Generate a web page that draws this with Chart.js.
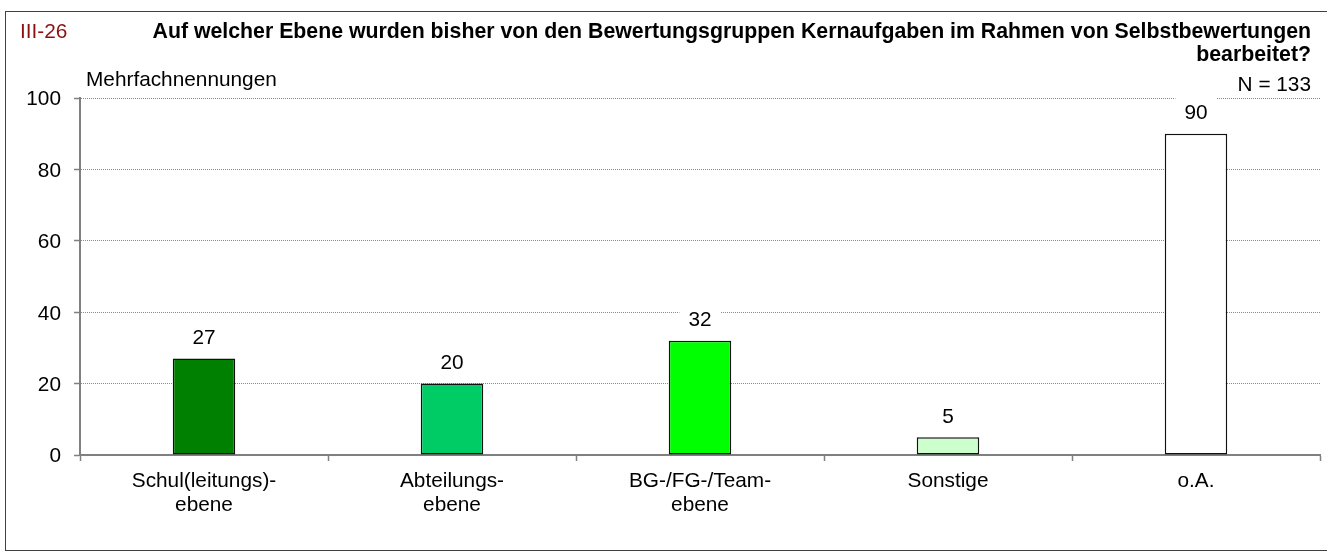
<!DOCTYPE html>
<html lang="de">
<head>
<meta charset="utf-8">
<title>III-26 Kernaufgaben Selbstbewertung</title>
<script src="https://cdn.jsdelivr.net/npm/chart.js"></script>
<style>
  html, body { margin: 0; padding: 0; background: #fff; }
  #wrap { width: 1327px; height: 552px; }
</style>
</head>
<body>
<div id="wrap"><canvas id="chart" width="1327" height="552"></canvas></div>
<script>
// categories and counts (multiple answers allowed, N = 133)
const categories = [
  ['Schul(leitungs)-', 'ebene'],
  ['Abteilungs-', 'ebene'],
  ['BG-/FG-/Team-', 'ebene'],
  ['Sonstige'],
  ['o.A.']
];
const counts = [27, 20, 32, 5, 90];
const barColors = ['#008000', '#00CC66', '#00FF00', '#CCFFCC', '#FFFFFF'];
const yMin = 0, yMax = 100, yStep = 20;

const FONT = '"Liberation Sans", Arial, sans-serif';
const REG = '20.8px ' + FONT;
const BOLD = 'bold 21.3px ' + FONT;

function $(id){ return document.getElementById(id) }

function text(ctx, str, x, y, align, font, color){
  ctx.save();
  ctx.font = font;
  ctx.fillStyle = color;
  ctx.textAlign = align;
  ctx.textBaseline = 'alphabetic';
  ctx.fillText(str, x, y);
  ctx.restore();
}

// frame, headings, tick labels and value labels
const decorations = {
  id: 'decorations',
  beforeDraw(chart){
    const ctx = chart.ctx;
    ctx.save();
    ctx.fillStyle = '#fff';
    ctx.fillRect(0, 0, chart.width, chart.height);
    ctx.strokeStyle = '#404040';
    ctx.lineWidth = 1;
    ctx.strokeRect(5.5, 11.5, 1330, 539);
    ctx.restore();
  },
  afterDraw(chart){
    const ctx = chart.ctx;
    const x = chart.scales.x, y = chart.scales.y;

    text(ctx, 'III-26', 20, 38, 'left', REG, '#8B1010');
    text(ctx, 'Auf welcher Ebene wurden bisher von den Bewertungsgruppen Kernaufgaben im Rahmen von Selbstbewertungen', 1311, 38, 'right', BOLD, '#000');
    text(ctx, 'bearbeitet?', 1311, 61, 'right', BOLD, '#000');
    text(ctx, 'N = 133', 1311, 91, 'right', REG, '#000');
    text(ctx, 'Mehrfachnennungen', 86, 85.5, 'left', REG, '#000');

    // y tick labels
    y.ticks.forEach(t => {
      text(ctx, String(t.value), 61, y.getPixelForValue(t.value) + 7.4, 'right', REG, '#000');
    });
    // x category labels
    categories.forEach((lines, i) => {
      const cx = x.getPixelForValue(i);
      lines.forEach((ln, j) => text(ctx, ln, cx, 487 + j*23.5, 'center', REG, '#000'));
    });
  },
  afterDatasetsDraw(chart){
    const ctx = chart.ctx;
    const meta = chart.getDatasetMeta(0);
    meta.data.forEach((bar, i) => {
      const base = bar.y - 14.5;
      ctx.save();
      ctx.font = REG;
      const w = ctx.measureText(String(counts[i])).width;
      ctx.fillStyle = '#fff';
      ctx.fillRect(bar.x - w/2 - 9, base - 22, w + 18, 26);
      ctx.restore();
      text(ctx, String(counts[i]), bar.x, base, 'center', REG, '#000');
    });
  }
};

new Chart($('chart'), {
  type: 'bar',
  data: {
    labels: categories,
    datasets: [{
      data: counts,
      backgroundColor: barColors,
      borderColor: '#111',
      borderWidth: 1.5,
      borderSkipped: false,
      categoryPercentage: 1,
      barPercentage: 0.252
    }]
  },
  options: {
    responsive: false,
    animation: false,
    layout: { padding: { left: 80, right: 7, top: 98, bottom: 97 } },
    plugins: { legend: { display: false }, tooltip: { enabled: false } },
    scales: {
      x: {
        ticks: { display: false },
        grid: {
          offset: true,
          drawOnChartArea: false,
          tickLength: 6,
          tickColor: '#808080',
          tickWidth: 1.5
        },
        border: { color: '#808080', width: 2 },
        afterFit(s){ s.height = 0; }
      },
      y: {
        min: yMin,
        max: yMax,
        ticks: { display: false, stepSize: yStep },
        grid: {
          color: '#8a8a8a',
          lineWidth: 1,
          tickLength: 6,
          tickColor: '#808080',
          tickWidth: 1.5,
          tickBorderDash: []
        },
        border: { color: '#808080', width: 2, dash: [1, 1] },
        afterFit(s){ s.width = 0; }
      }
    }
  },
  plugins: [decorations]
});
</script>
</body>
</html>
